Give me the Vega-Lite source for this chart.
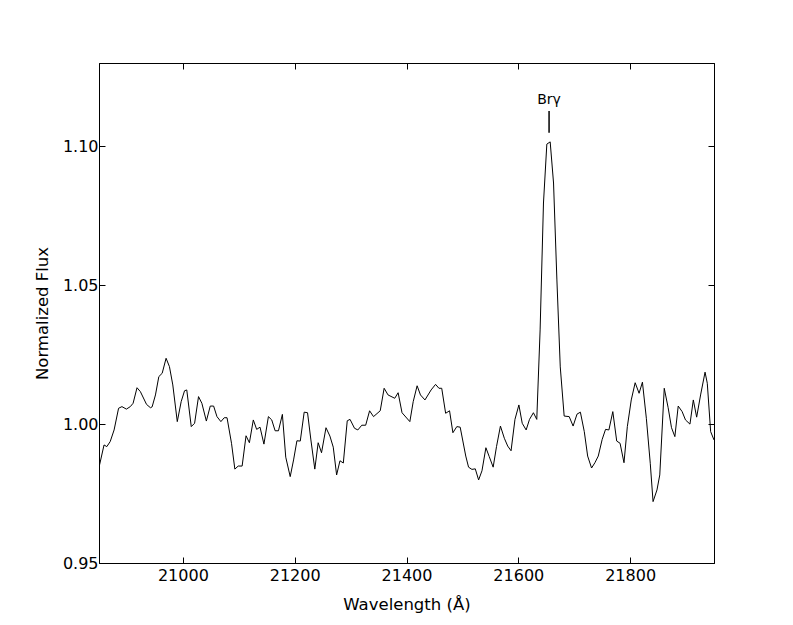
{
  "$schema": "https://vega.github.io/schema/vega-lite/v6.json",
  "width": 615,
  "height": 500,
  "autosize": "none",
  "padding": {"left": 99, "top": 63, "right": 79, "bottom": 62},
  "background": "white",
  "config": {
    "font": "DejaVu Sans",
    "view": {"stroke": "black", "strokeWidth": 1},
    "axis": {
      "grid": false,
      "domainColor": "black",
      "tickColor": "black",
      "labelColor": "black",
      "titleColor": "black",
      "labelFont": "DejaVu Sans",
      "titleFont": "DejaVu Sans",
      "labelFontSize": 16,
      "titleFontSize": 16.5,
      "titleFontWeight": "normal",
      "tickSize": -6,
      "labelPadding": 7
    }
  },
  "datasets": {
    "spec": [
      {"wl": 20851, "flux": 0.9853}, {"wl": 20859, "flux": 0.9925}, {"wl": 20864, "flux": 0.9919},
      {"wl": 20870, "flux": 0.9937}, {"wl": 20877, "flux": 0.9979}, {"wl": 20885, "flux": 1.0057},
      {"wl": 20891, "flux": 1.0063}, {"wl": 20899, "flux": 1.0054}, {"wl": 20906, "flux": 1.0063},
      {"wl": 20911, "flux": 1.0075}, {"wl": 20918, "flux": 1.0131}, {"wl": 20924, "flux": 1.0117},
      {"wl": 20935, "flux": 1.0071}, {"wl": 20942, "flux": 1.0059}, {"wl": 20945, "flux": 1.0062},
      {"wl": 20951, "flux": 1.0105}, {"wl": 20957, "flux": 1.0171}, {"wl": 20963, "flux": 1.0183},
      {"wl": 20970, "flux": 1.0237}, {"wl": 20976, "flux": 1.0207}, {"wl": 20982, "flux": 1.0141},
      {"wl": 20990, "flux": 1.0009}, {"wl": 20997, "flux": 1.0081}, {"wl": 21003, "flux": 1.0120},
      {"wl": 21007, "flux": 1.0123}, {"wl": 21015, "flux": 0.9991}, {"wl": 21021, "flux": 1.0003},
      {"wl": 21028, "flux": 1.0099}, {"wl": 21034, "flux": 1.0075}, {"wl": 21042, "flux": 1.0011},
      {"wl": 21049, "flux": 1.0065}, {"wl": 21055, "flux": 1.0065}, {"wl": 21061, "flux": 1.0027},
      {"wl": 21068, "flux": 1.0009}, {"wl": 21074, "flux": 1.0023}, {"wl": 21079, "flux": 1.0023},
      {"wl": 21087, "flux": 0.9931}, {"wl": 21093, "flux": 0.9838}, {"wl": 21099, "flux": 0.9849},
      {"wl": 21106, "flux": 0.9849}, {"wl": 21113, "flux": 0.9958}, {"wl": 21119, "flux": 0.9933},
      {"wl": 21126, "flux": 1.0015}, {"wl": 21132, "flux": 0.9981}, {"wl": 21138, "flux": 0.9989},
      {"wl": 21145, "flux": 0.9928}, {"wl": 21153, "flux": 1.0027}, {"wl": 21159, "flux": 1.0015},
      {"wl": 21165, "flux": 0.9976}, {"wl": 21171, "flux": 0.9976}, {"wl": 21178, "flux": 1.0035},
      {"wl": 21184, "flux": 0.9881}, {"wl": 21192, "flux": 0.9811}, {"wl": 21198, "flux": 0.9871},
      {"wl": 21204, "flux": 0.9940}, {"wl": 21210, "flux": 0.9939}, {"wl": 21217, "flux": 1.0043},
      {"wl": 21223, "flux": 1.0041}, {"wl": 21229, "flux": 0.9943}, {"wl": 21236, "flux": 0.9838},
      {"wl": 21242, "flux": 0.9933}, {"wl": 21248, "flux": 0.9897}, {"wl": 21256, "flux": 0.9987},
      {"wl": 21263, "flux": 0.9957}, {"wl": 21269, "flux": 0.9917}, {"wl": 21275, "flux": 0.9817},
      {"wl": 21281, "flux": 0.9868}, {"wl": 21287, "flux": 0.9860}, {"wl": 21294, "flux": 1.0012},
      {"wl": 21299, "flux": 1.0017}, {"wl": 21307, "flux": 0.9985}, {"wl": 21313, "flux": 0.9979},
      {"wl": 21320, "flux": 0.9996}, {"wl": 21327, "flux": 0.9996}, {"wl": 21334, "flux": 1.0048},
      {"wl": 21341, "flux": 1.0027}, {"wl": 21353, "flux": 1.0048}, {"wl": 21360, "flux": 1.0129},
      {"wl": 21367, "flux": 1.0105}, {"wl": 21379, "flux": 1.0093}, {"wl": 21385, "flux": 1.0113},
      {"wl": 21392, "flux": 1.0041}, {"wl": 21406, "flux": 1.0009}, {"wl": 21412, "flux": 1.0081},
      {"wl": 21419, "flux": 1.0138}, {"wl": 21425, "flux": 1.0105}, {"wl": 21433, "flux": 1.0087},
      {"wl": 21444, "flux": 1.0123}, {"wl": 21452, "flux": 1.0143}, {"wl": 21458, "flux": 1.0129},
      {"wl": 21463, "flux": 1.0129}, {"wl": 21470, "flux": 1.0039}, {"wl": 21477, "flux": 1.0048},
      {"wl": 21483, "flux": 0.9969}, {"wl": 21490, "flux": 0.9991}, {"wl": 21496, "flux": 0.9989},
      {"wl": 21506, "flux": 0.9885}, {"wl": 21511, "flux": 0.9845}, {"wl": 21517, "flux": 0.9837},
      {"wl": 21523, "flux": 0.9839}, {"wl": 21529, "flux": 0.9799}, {"wl": 21535, "flux": 0.9832},
      {"wl": 21542, "flux": 0.9915}, {"wl": 21548, "flux": 0.9883}, {"wl": 21555, "flux": 0.9845},
      {"wl": 21561, "flux": 0.9919}, {"wl": 21568, "flux": 0.9993}, {"wl": 21575, "flux": 0.9949},
      {"wl": 21581, "flux": 0.9921}, {"wl": 21587, "flux": 0.9904}, {"wl": 21594, "flux": 1.0017},
      {"wl": 21601, "flux": 1.0069}, {"wl": 21607, "flux": 1.0003}, {"wl": 21614, "flux": 0.9979},
      {"wl": 21620, "flux": 1.0017}, {"wl": 21627, "flux": 1.0041}, {"wl": 21633, "flux": 1.0017},
      {"wl": 21639, "flux": 1.0339}, {"wl": 21645, "flux": 1.0796}, {"wl": 21651, "flux": 1.1008},
      {"wl": 21657, "flux": 1.1016}, {"wl": 21663, "flux": 1.0868}, {"wl": 21669, "flux": 1.0519},
      {"wl": 21675, "flux": 1.0206}, {"wl": 21682, "flux": 1.0029}, {"wl": 21691, "flux": 1.0027},
      {"wl": 21698, "flux": 0.9993}, {"wl": 21705, "flux": 1.0036}, {"wl": 21711, "flux": 1.0043},
      {"wl": 21718, "flux": 0.9973}, {"wl": 21724, "flux": 0.9885}, {"wl": 21731, "flux": 0.9842},
      {"wl": 21737, "flux": 0.9861}, {"wl": 21743, "flux": 0.9885}, {"wl": 21750, "flux": 0.9945},
      {"wl": 21756, "flux": 0.9981}, {"wl": 21762, "flux": 0.9979}, {"wl": 21769, "flux": 1.0045},
      {"wl": 21776, "flux": 0.9939}, {"wl": 21782, "flux": 0.9931}, {"wl": 21789, "flux": 0.9861},
      {"wl": 21795, "flux": 0.9991}, {"wl": 21802, "flux": 1.0087}, {"wl": 21809, "flux": 1.0149},
      {"wl": 21816, "flux": 1.0111}, {"wl": 21822, "flux": 1.0151}, {"wl": 21829, "flux": 1.0021},
      {"wl": 21836, "flux": 0.9859}, {"wl": 21841, "flux": 0.9721}, {"wl": 21848, "flux": 0.9763},
      {"wl": 21853, "flux": 0.9817}, {"wl": 21861, "flux": 1.0129}, {"wl": 21868, "flux": 1.0059},
      {"wl": 21874, "flux": 0.9987}, {"wl": 21880, "flux": 0.9955}, {"wl": 21886, "flux": 1.0065},
      {"wl": 21893, "flux": 1.0045}, {"wl": 21899, "flux": 1.0015}, {"wl": 21907, "flux": 1.0000},
      {"wl": 21913, "flux": 1.0087}, {"wl": 21919, "flux": 1.0025}, {"wl": 21926, "flux": 1.0105},
      {"wl": 21934, "flux": 1.0187}, {"wl": 21938, "flux": 1.0147}, {"wl": 21944, "flux": 0.9973},
      {"wl": 21950, "flux": 0.9943}
    ],
    "mark": [
      {"wl": 21655, "y1": 1.1049, "y2": 1.1127, "ty": 1.1151, "label": "Brγ"}
    ]
  },
  "layer": [
    {
      "data": {"name": "spec"},
      "mark": {"type": "line", "color": "black", "strokeWidth": 1, "clip": true},
      "encoding": {
        "x": {
          "field": "wl", "type": "quantitative",
          "scale": {"domain": [20850, 21950], "nice": false, "zero": false},
          "axis": {"title": "Wavelength (Å)", "values": [21000, 21200, 21400, 21600, 21800], "format": "d", "labelPadding": 10, "titlePadding": 13}
        },
        "y": {
          "field": "flux", "type": "quantitative",
          "scale": {"domain": [0.95, 1.13], "nice": false, "zero": false},
          "axis": {"title": "Normalized Flux", "values": [0.95, 1.0, 1.05, 1.1], "format": ".2f", "titlePadding": 12}
        }
      }
    },
    {
      "data": {"name": "spec"},
      "mark": {"type": "line", "strokeOpacity": 0},
      "encoding": {
        "x": {
          "field": "wl", "type": "quantitative",
          "scale": {"domain": [20850, 21950], "nice": false, "zero": false},
          "axis": {"orient": "top", "title": null, "labels": false, "values": [21000, 21200, 21400, 21600, 21800]}
        },
        "y": {
          "field": "flux", "type": "quantitative",
          "scale": {"domain": [0.95, 1.13], "nice": false, "zero": false},
          "axis": {"orient": "right", "title": null, "labels": false, "values": [0.95, 1.0, 1.05, 1.1]}
        }
      }
    },
    {
      "data": {"name": "mark"},
      "mark": {"type": "rule", "color": "black", "strokeWidth": 1.5},
      "encoding": {
        "x": {"field": "wl", "type": "quantitative", "axis": null},
        "y": {"field": "y1", "type": "quantitative", "axis": null},
        "y2": {"field": "y2"}
      }
    },
    {
      "data": {"name": "mark"},
      "mark": {"type": "text", "color": "black", "fontSize": 14, "baseline": "alphabetic", "align": "center", "font": "DejaVu Sans"},
      "encoding": {
        "x": {"field": "wl", "type": "quantitative", "axis": null},
        "y": {"field": "ty", "type": "quantitative", "axis": null},
        "text": {"field": "label"}
      }
    }
  ],
  "resolve": {"axis": {"x": "independent", "y": "independent"}}
}
